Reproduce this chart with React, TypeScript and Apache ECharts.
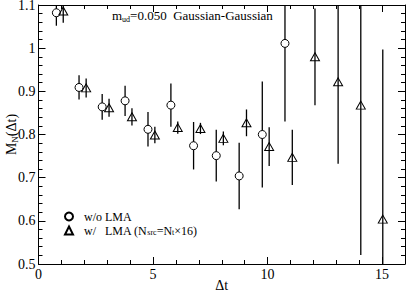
import React, { useEffect, useRef } from "react";
import * as echarts from "echarts";

// Δt positions (circles slightly left of integer, triangles slightly right)
const circleDt = [0.78, 1.77, 2.78, 3.78, 4.78, 5.78, 6.77, 7.76, 8.76, 9.77, 10.76];
const circleM = [1.082, 0.909, 0.864, 0.878, 0.812, 0.868, 0.774, 0.751, 0.704, 0.8, 1.011];
const circleErr = [0.03, 0.028, 0.03, 0.035, 0.04, 0.05, 0.055, 0.06, 0.077, 0.123, 0.181];

const triDt = [1.08, 2.08, 3.08, 4.08, 5.08, 6.08, 7.07, 8.07, 9.08, 10.07, 11.08, 12.07, 13.08, 14.07, 15.03];
const triM = [1.086, 0.908, 0.862, 0.841, 0.799, 0.816, 0.814, 0.791, 0.827, 0.772, 0.747, 0.98, 0.922, 0.868, 0.604];
const triErr = [0.027, 0.022, 0.021, 0.02, 0.019, 0.014, 0.013, 0.016, 0.031, 0.045, 0.064, 0.112, 0.19, 0.347, 0.393];

const xTickLabels = ["0", "5", "10", "15"];
const yTickLabels = ["0.5", "0.6", "0.7", "0.8", "0.9", "1", "1.1"];
const seriesNames = ["w/o LMA", "w/  LMA"];

const Y_MIN = 0.5;
const Y_MAX = 1.1;
const X_MIN = 0;
const X_MAX = 16;

const FONT = "'Liberation Serif', 'DejaVu Serif', serif";

export default function App() {
  const ref = useRef<HTMLDivElement>(null);
  useEffect(() => {
    document.body.style.margin = "0";
    const chart = echarts.init(ref.current!, null, { renderer: "svg" });

    const errRender = (params: any, api: any) => {
      const x = api.value(0);
      const y = api.value(1);
      const e = api.value(2);
      const lo = Math.max(y - e, Y_MIN);
      const hi = Math.min(y + e, Y_MAX);
      const p1 = api.coord([x, lo]);
      const p2 = api.coord([x, hi]);
      return {
        type: "line",
        shape: { x1: p1[0], y1: p1[1], x2: p2[0], y2: p2[1] },
        style: { stroke: "#000", lineWidth: 1.3 },
      };
    };

    const gridRect = {
      left: 38.5,
      right: 2,
      top: 5,
      bottom: 27,
      containLabel: false,
      outerBoundsMode: "none",
    };
    const axisLine = { show: true, onZero: false, lineStyle: { color: "#000", width: 1 } };

    const legendText = {
      color: "#000",
      fontFamily: FONT,
      padding: [0, 0, 0, 6],
      rich: {
        a: { fontSize: 12, fontFamily: FONT, color: "#000", lineHeight: 11 },
        b: { fontSize: 8, fontFamily: FONT, color: "#000", verticalAlign: "bottom", lineHeight: 8 },
      },
    };
    const legendCommon = {
      left: 64,
      orient: "vertical",
      itemWidth: 8,
      itemHeight: 8,
      padding: 0,
      textStyle: legendText,
      formatter: (name: string) =>
        name === seriesNames[0] ? "{a|w/o LMA}" : "{a|w/   LMA (N}{b|src}{a|=N}{b|t}{a|×16)}",
    };

    chart.setOption({
      animation: false,
      backgroundColor: "#fff",
      textStyle: { fontFamily: FONT },
      grid: [{ ...gridRect }, { ...gridRect }],
      xAxis: [
        {
          type: "value",
          gridIndex: 0,
          position: "bottom",
          min: X_MIN,
          max: X_MAX,
          interval: 5,
          axisLine,
          axisTick: { show: true, inside: true, length: 7, lineStyle: { color: "#000" } },
          axisLabel: {
            color: "#000",
            fontSize: 14,
            fontFamily: FONT,
            margin: 3,
            showMaxLabel: false,
            formatter: (v: number) => (v % 5 === 0 && v / 5 < xTickLabels.length ? xTickLabels[v / 5] : ""),
          },
          splitLine: { show: false },
          name: "Δt",
          nameLocation: "middle",
          nameGap: 14,
          nameMoveOverlap: false,
          nameTextStyle: { color: "#000", fontSize: 14, fontFamily: FONT },
        },
        {
          type: "value",
          gridIndex: 0,
          position: "top",
          min: X_MIN,
          max: X_MAX,
          interval: 5,
          axisLine,
          axisTick: { show: true, inside: true, length: 7, lineStyle: { color: "#000" } },
          axisLabel: { show: false },
          splitLine: { show: false },
        },
        {
          type: "value",
          gridIndex: 1,
          position: "bottom",
          min: X_MIN,
          max: X_MAX,
          interval: 1,
          axisLine: { show: false },
          axisTick: { show: true, inside: true, length: 4, lineStyle: { color: "#000" } },
          axisLabel: { show: false },
          splitLine: { show: false },
        },
        {
          type: "value",
          gridIndex: 1,
          position: "top",
          min: X_MIN,
          max: X_MAX,
          interval: 1,
          axisLine: { show: false },
          axisTick: { show: true, inside: true, length: 4, lineStyle: { color: "#000" } },
          axisLabel: { show: false },
          splitLine: { show: false },
        },
      ],
      yAxis: [
        {
          type: "value",
          gridIndex: 0,
          position: "left",
          min: Y_MIN,
          max: Y_MAX,
          interval: 0.1,
          axisLine,
          axisTick: { show: true, inside: true, length: 7, lineStyle: { color: "#000" } },
          minorTick: { show: true, splitNumber: 5, length: 4, lineStyle: { color: "#000" } },
          axisLabel: {
            color: "#000",
            fontSize: 14,
            fontFamily: FONT,
            margin: 3,
            formatter: (v: number) => yTickLabels[Math.round((v - Y_MIN) * 10)] ?? "",
          },
          splitLine: { show: false },
          minorSplitLine: { show: false },
          name: "{a|M}{b|N}{a|(Δt)}",
          nameLocation: "middle",
          nameGap: 19,
          nameMoveOverlap: false,
          nameTextStyle: {
            color: "#000",
            fontFamily: FONT,
            rich: {
              a: { fontSize: 14, fontFamily: FONT, color: "#000", lineHeight: 16 },
              b: { fontSize: 9, fontFamily: FONT, color: "#000", verticalAlign: "bottom", lineHeight: 10 },
            },
          },
        },
        {
          type: "value",
          gridIndex: 0,
          position: "right",
          min: Y_MIN,
          max: Y_MAX,
          interval: 0.1,
          axisLine,
          axisTick: { show: true, inside: true, length: 7, lineStyle: { color: "#000" } },
          minorTick: { show: true, splitNumber: 5, length: 4, lineStyle: { color: "#000" } },
          axisLabel: { show: false },
          splitLine: { show: false },
          minorSplitLine: { show: false },
        },
        {
          type: "value",
          gridIndex: 1,
          min: Y_MIN,
          max: Y_MAX,
          show: false,
        },
      ],
      legend: [
        { ...legendCommon, top: 210.5, data: [seriesNames[0]] },
        { ...legendCommon, top: 224.5, data: [seriesNames[1]] },
      ],
      graphic: [
        {
          type: "text",
          left: 112,
          top: 9,
          style: {
            text: "{a|m}{b|ud}{a|=0.050  Gaussian-Gaussian}",
            fill: "#000",
            rich: {
              a: { fontSize: 13, fontFamily: FONT, fill: "#000", color: "#000", lineHeight: 15 },
              b: { fontSize: 8, fontFamily: FONT, fill: "#000", color: "#000", verticalAlign: "bottom", lineHeight: 9 },
            },
          },
        },
      ],
      series: [
        {
          type: "custom",
          name: "errA",
          xAxisIndex: 0,
          yAxisIndex: 0,
          silent: true,
          z: 1,
          renderItem: errRender,
          data: circleDt.map((x, i) => [x, circleM[i], circleErr[i]]),
        },
        {
          type: "custom",
          name: "errB",
          xAxisIndex: 0,
          yAxisIndex: 0,
          silent: true,
          z: 1,
          renderItem: errRender,
          data: triDt.map((x, i) => [x, triM[i], triErr[i]]),
        },
        {
          type: "scatter",
          name: seriesNames[0],
          xAxisIndex: 0,
          yAxisIndex: 0,
          symbol: "circle",
          symbolSize: 8,
          z: 3,
          itemStyle: { color: "#fff", borderColor: "#000", borderWidth: 1, opacity: 1 },
          data: circleDt.map((x, i) => [x, circleM[i]]),
        },
        {
          type: "scatter",
          name: seriesNames[1],
          xAxisIndex: 0,
          yAxisIndex: 0,
          symbol: "triangle",
          symbolSize: [9, 8],
          z: 3,
          itemStyle: { color: "rgba(255,255,255,0)", borderColor: "#000", borderWidth: 1, opacity: 1 },
          data: triDt.map((x, i) => [x, triM[i]]),
        },
      ],
    });
    return () => chart.dispose();
  }, []);
  return <div ref={ref} style={{ width: 407, height: 291 }} />;
}
